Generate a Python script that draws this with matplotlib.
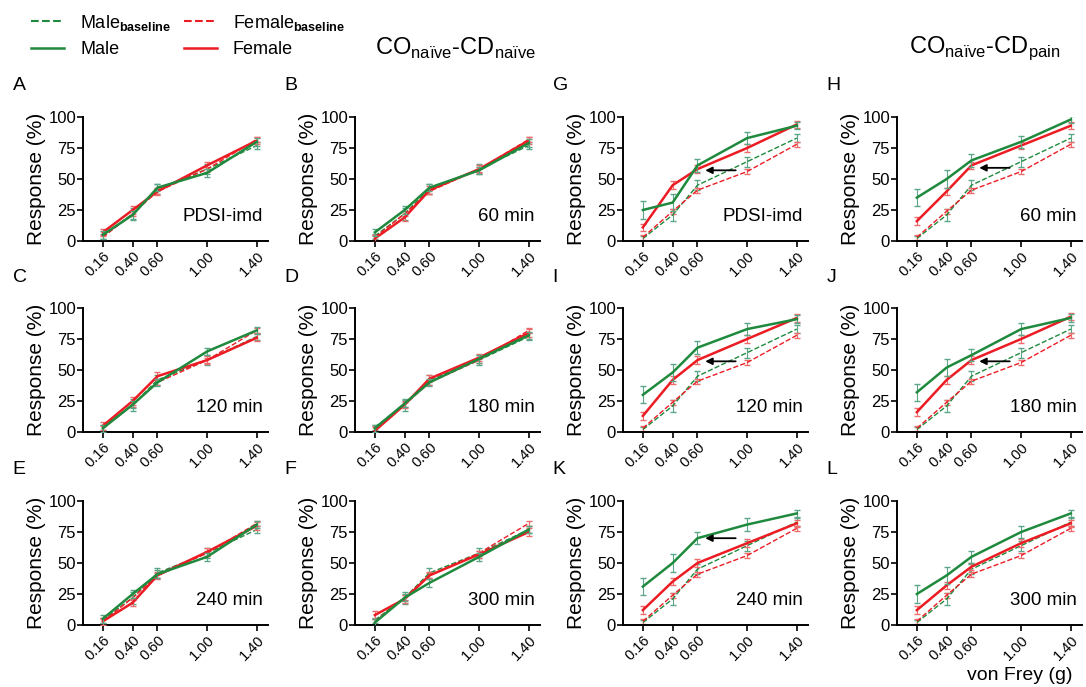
import matplotlib
matplotlib.use("Agg")
import matplotlib.pyplot as plt
from matplotlib.lines import Line2D

plt.rcParams["font.family"] = ["Liberation Sans", "DejaVu Sans"]
plt.rcParams["mathtext.fontset"] = "custom"
plt.rcParams["mathtext.rm"] = "Liberation Sans"
plt.rcParams["mathtext.bf"] = "Liberation Sans:bold"

# von Frey filaments (g)
forces = [0.16, 0.40, 0.60, 1.00, 1.40]
tick_labels = ["0.16", "0.40", "0.60", "1.00", "1.40"]

# baselines (same animals, before treatment)
male_base_naive = [4, 22, 42, 58, 77]
female_base_naive = [3, 22, 40, 58, 82]
male_base = [2, 21, 45, 64, 83]
female_base = [3, 24, 41, 56, 78]
male_base_err = [2, 5, 4, 4, 3]
female_base_err = [2, 2, 2, 2, 2]

# CO naive - CD naive
A_male = [5, 21, 43, 55, 80]
A_female = [7, 25, 40, 61, 81]
B_male = [7, 25, 43, 57, 79]
B_female = [2, 19, 41, 58, 81]
C_male = [3, 22, 40, 65, 82]
C_female = [5, 25, 45, 58, 76]
D_male = [3, 23, 40, 59, 78]
D_female = [1, 22, 43, 60, 80]
E_male = [5, 25, 41, 55, 81]
E_female = [3, 18, 40, 59, 80]
F_male = [2, 22, 34, 55, 77]
F_female = [8, 21, 40, 57, 75]

# CO naive - CD pain
G_male = [25, 31, 61, 83, 93]
G_female = [11, 45, 58, 75, 94]
H_male = [35, 50, 65, 80, 98]
H_female = [16, 40, 61, 77, 93]
I_male = [30, 48, 68, 83, 91]
I_female = [13, 42, 58, 75, 92]
J_male = [32, 52, 62, 83, 92]
J_female = [16, 42, 58, 75, 93]
K_male = [31, 50, 70, 81, 90]
K_female = [12, 35, 50, 66, 82]
L_male = [25, 40, 55, 75, 90]
L_female = [12, 32, 47, 66, 82]

naive_err = [3, 3, 3, 3, 3]
pain_male_err = [7, 7, 5, 5, 3]
pain_female_err = [3, 3, 3, 3, 3]

time_labels = ["PDSI-imd", "60 min", "120 min", "180 min", "240 min", "300 min"]
arrow_y = [57, 59, 57, 57, 70, None]

GREEN = "#1f8a3e"
RED = "#ec1c24"
GREEN_ERR = "#5aa686"
RED_ERR = "#ee6b6b"

W, H = 1086, 687
fig = plt.figure(figsize=(W / 100, H / 100), dpi=100)

col_x = [83, 355, 623, 897]
row_top = [117, 308, 501]
ax_w, ax_h = 185, 124


def make_ax(x0, ytop):
    return fig.add_axes([x0 / W, 1 - (ytop + ax_h) / H, ax_w / W, ax_h / H])


def draw_panel(ax, male, female, mb, fb, m_err, f_err, label, letter, arrow=None):
    ax.errorbar(forces, mb, yerr=male_base_err, color=GREEN, ls="--", lw=1.0,
                ecolor=GREEN_ERR, elinewidth=0.8, capsize=2, zorder=2)
    ax.errorbar(forces, fb, yerr=female_base_err, color=RED, ls="--", lw=1.0,
                ecolor=RED_ERR, elinewidth=0.8, capsize=2, zorder=2)
    ax.errorbar(forces, female, yerr=f_err, color=RED, lw=1.8,
                ecolor=RED_ERR, elinewidth=0.8, capsize=2, zorder=3)
    ax.errorbar(forces, male, yerr=m_err, color=GREEN, lw=1.8,
                ecolor=GREEN_ERR, elinewidth=0.8, capsize=2, zorder=4)
    if arrow is not None:
        ax.annotate("", xy=(0.64, arrow), xytext=(0.93, arrow),
                    arrowprops=dict(arrowstyle="-|>", color="black", lw=1.3,
                                    mutation_scale=10), zorder=5)
    ax.set_xlim(0, 1.49)
    ax.set_ylim(0, 100)
    ax.set_yticks([0, 25, 50, 75, 100])
    ax.set_xticks(forces)
    ax.set_xticklabels(tick_labels, rotation=45, ha="right", rotation_mode="anchor",
                       fontsize=10.5)
    ax.tick_params(axis="y", labelsize=12, length=4, width=1.2, direction="out", pad=1)
    ax.tick_params(axis="x", length=4, width=1.2, direction="out", pad=2)
    for s in ["top", "right"]:
        ax.spines[s].set_visible(False)
    for s in ["left", "bottom"]:
        ax.spines[s].set_linewidth(1.4)
    ax.set_ylabel("Response (%)", fontsize=15, labelpad=2)
    ax.text(0.97, 0.2, label, transform=ax.transAxes, ha="right", va="center",
            fontsize=13.5)
    ax.text(-0.38, 1.25, letter, transform=ax.transAxes, ha="left", va="center",
            fontsize=14)


left = [(A_male, A_female), (B_male, B_female), (C_male, C_female),
        (D_male, D_female), (E_male, E_female), (F_male, F_female)]
right = [(G_male, G_female), (H_male, H_female), (I_male, I_female),
         (J_male, J_female), (K_male, K_female), (L_male, L_female)]
left_letters = ["A", "B", "C", "D", "E", "F"]
right_letters = ["G", "H", "I", "J", "K", "L"]

for i in range(6):
    r, c = divmod(i, 2)
    ax = make_ax(col_x[c], row_top[r])
    m, f = left[i]
    draw_panel(ax, m, f, male_base_naive, female_base_naive, naive_err, naive_err,
               time_labels[i], left_letters[i])
    ax = make_ax(col_x[c + 2], row_top[r])
    m, f = right[i]
    draw_panel(ax, m, f, male_base, female_base, pain_male_err, pain_female_err,
               time_labels[i], right_letters[i], arrow=arrow_y[i])

fig.text(455 / W, 1 - 48 / H, r"CO$_{\mathregular{naïve}}$-CD$_{\mathregular{naïve}}$",
         ha="center", va="center", fontsize=17)
fig.text(985 / W, 1 - 48 / H, r"CO$_{\mathregular{naïve}}$-CD$_{\mathregular{pain}}$",
         ha="center", va="center", fontsize=17)
fig.text(1020 / W, 1 - 676 / H, "von Frey (g)", ha="center", va="center", fontsize=14)

handles = [
    Line2D([], [], color=GREEN, ls="--", lw=1.5),
    Line2D([], [], color=GREEN, lw=1.8),
    Line2D([], [], color=RED, ls="--", lw=1.5),
    Line2D([], [], color=RED, lw=1.8),
]
labels = [r"Male$_{\mathbf{baseline}}$", "Male",
          r"Female$_{\mathbf{baseline}}$", "Female"]
fig.legend(handles, labels, loc="upper left", bbox_to_anchor=(0.014, 1.005), ncol=2,
           frameon=False, fontsize=13, handlelength=1.8, handletextpad=0.9,
           columnspacing=0.7, labelspacing=0.45)

fig.savefig("out.png", dpi=100)
